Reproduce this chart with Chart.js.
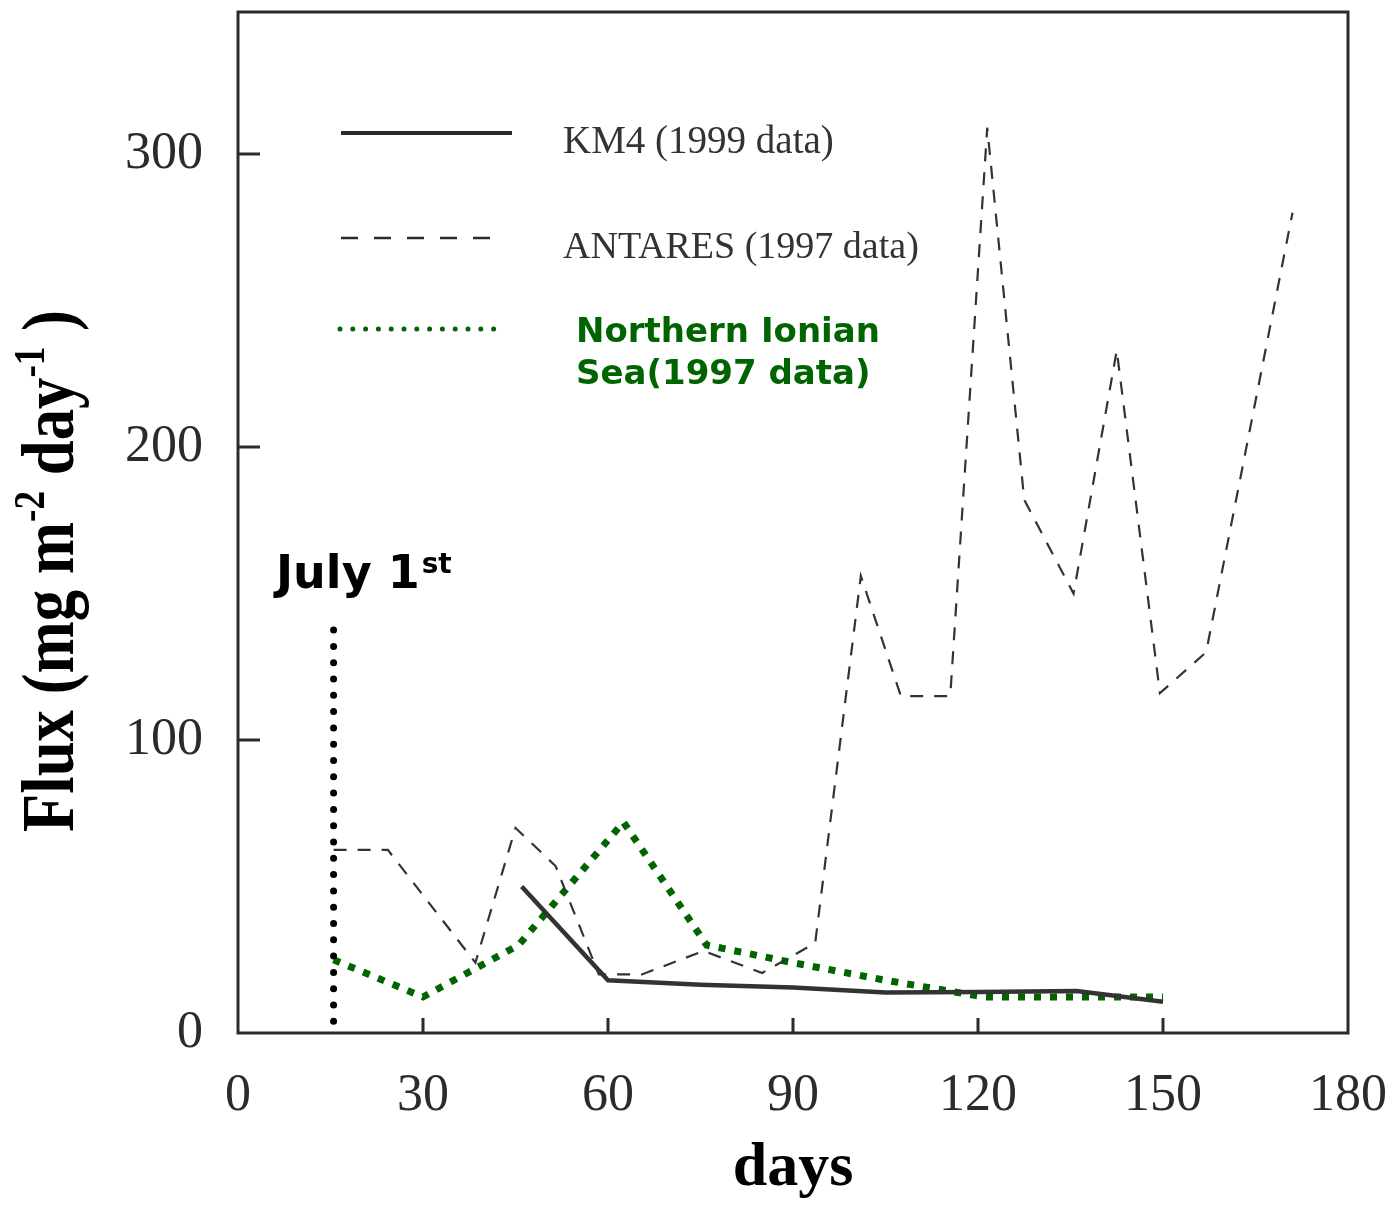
<!DOCTYPE html>
<html>
<head>
<meta charset="utf-8">
<title>Flux vs days</title>
<script src="https://cdn.jsdelivr.net/npm/chart.js@4.4.1/dist/chart.umd.min.js"></script>
<style>
  html, body { margin: 0; padding: 0; background: #ffffff; }
  #wrap { width: 1395px; height: 1206px; }
</style>
</head>
<body>
<div id="wrap"><canvas id="chart" width="1395" height="1206"></canvas></div>
<script>
// Axis ticks
const dayTicks = [0, 30, 60, 90, 120, 150, 180];
const fluxTicks = [0, 100, 200, 300];

// KM4 (1999) mass flux
const km4Days = [46, 60, 75, 90, 105, 120, 136, 150];
const km4Flux = [50, 18, 16.5, 15.5, 13.8, 14, 14.3, 10.7];

// ANTARES (1997) mass flux
const antaresDays = [15.5, 24.3, 38.5, 45, 51.5, 58.5, 65.5, 75.5, 85, 93.6, 101, 107.5, 115.5, 121.5, 127.5, 135.5, 142.5, 149.5, 157, 171];
const antaresFlux = [62.5, 62.5, 24, 70, 57, 20, 20, 28, 20.5, 30.7, 156, 115, 115, 309, 182, 150, 233, 116, 130, 280];

// Northern Ionian Sea (1997) mass flux
const ionianDays = [15.5, 30, 45.5, 62.5, 76, 90, 105, 121, 150];
const ionianFlux = [25, 12.3, 30, 72, 30, 24, 18, 12.3, 12.3];

// July 1st marker
const markerDay = 15.5;
const markerFlux = [4, 139];

const legendLabels = ['KM4 (1999 data)', 'ANTARES (1997 data)', 'Northern Ionian', 'Sea(1997 data)'];
const markerLabel = ['July 1', 'st'];
const xTitle = 'days';
const yTitleParts = [['Flux (mg m', false], ['-2', true], [' day', false], ['-1', true], [' )', false]];

const INK = '#2b2b2b';
const GREEN = '#006400';

function pairs(xs, ys) { return xs.map((x, i) => ({ x: x, y: ys[i] })); }

function noScalePadding(s) {
  s.paddingTop = 0; s.paddingBottom = 0; s.paddingLeft = 0; s.paddingRight = 0;
}

// Plot frame with inward tick marks
const framePlugin = {
  id: 'frame',
  beforeDatasetsDraw(chart) {
    const { ctx, chartArea: a, scales } = chart;
    ctx.save();
    ctx.strokeStyle = INK;
    ctx.lineWidth = 3;
    ctx.strokeRect(a.left, a.top, a.right - a.left, a.bottom - a.top);
    ctx.beginPath();
    dayTicks.slice(1, -1).forEach(v => {
      const x = scales.x.getPixelForValue(v);
      ctx.moveTo(x, a.bottom); ctx.lineTo(x, a.bottom - 15);
    });
    fluxTicks.slice(1).forEach(v => {
      const y = scales.y.getPixelForValue(v);
      ctx.moveTo(a.left, y); ctx.lineTo(a.left + 22, y);
    });
    ctx.stroke();
    ctx.restore();
  }
};

// Rotated y-axis title with superscripts
const yTitlePlugin = {
  id: 'yTitle',
  afterDraw(chart) {
    const { ctx } = chart;
    const mainFont = 'bold 74px "Liberation Serif", serif';
    const supFont = 'bold 44px "Liberation Serif", serif';
    ctx.save();
    let total = 0;
    const widths = yTitleParts.map(([t, sup]) => {
      ctx.font = sup ? supFont : mainFont;
      const w = ctx.measureText(t).width;
      total += w;
      return w;
    });
    const cy = 571;
    const targetLen = 522;
    ctx.translate(0, cy);
    ctx.rotate(-Math.PI / 2);
    ctx.scale(targetLen / total, 1);
    ctx.fillStyle = '#000';
    ctx.textBaseline = 'alphabetic';
    let u = -total / 2;
    yTitleParts.forEach(([t, sup], i) => {
      ctx.font = sup ? supFont : mainFont;
      ctx.fillText(t, u, sup ? 44 : 73);
      u += widths[i];
    });
    ctx.restore();
  }
};

// In-plot legend and the July 1st label
const legendPlugin = {
  id: 'keyBox',
  afterDatasetsDraw(chart) {
    const { ctx } = chart;
    ctx.save();
    ctx.strokeStyle = INK;
    ctx.lineWidth = 4;
    ctx.beginPath(); ctx.moveTo(341, 133); ctx.lineTo(512, 133); ctx.stroke();
    ctx.lineWidth = 2.5;
    ctx.setLineDash([17, 16]);
    ctx.beginPath(); ctx.moveTo(341, 238); ctx.lineTo(500, 238); ctx.stroke();
    ctx.strokeStyle = GREEN;
    ctx.lineWidth = 5;
    ctx.lineCap = 'round';
    ctx.setLineDash([0, 12.8]);
    ctx.beginPath(); ctx.moveTo(340, 329); ctx.lineTo(505, 329); ctx.stroke();
    ctx.setLineDash([]);

    ctx.fillStyle = '#333';
    ctx.font = '39px "Liberation Serif", serif';
    ctx.textBaseline = 'alphabetic';
    ctx.fillText(legendLabels[0], 563, 153);
    ctx.font = '38px "Liberation Serif", serif';
    ctx.fillText(legendLabels[1], 563, 258);
    ctx.fillStyle = GREEN;
    ctx.font = 'bold 34px "DejaVu Sans", sans-serif';
    ctx.fillText(legendLabels[2], 576, 342);
    ctx.fillText(legendLabels[3], 576, 384);

    ctx.fillStyle = '#000';
    ctx.font = 'bold 46px "DejaVu Sans", sans-serif';
    ctx.fillText(markerLabel[0], 276, 588);
    const w = ctx.measureText(markerLabel[0]).width;
    ctx.font = 'bold 28px "DejaVu Sans", sans-serif';
    ctx.fillText(markerLabel[1], 276 + w + 2, 573);
    ctx.restore();
  }
};

const tickFont = { family: '"Liberation Serif", serif', size: 52 };

new Chart(document.getElementById('chart'), {
  type: 'line',
  data: {
    datasets: [
      {
        label: 'July 1st',
        data: [{ x: markerDay, y: markerFlux[0] }, { x: markerDay, y: markerFlux[1] }],
        borderColor: '#000', borderWidth: 7, borderDash: [0, 16.3], borderCapStyle: 'round',
        pointRadius: 0, tension: 0
      },
      {
        label: legendLabels[1],
        data: pairs(antaresDays, antaresFlux),
        borderColor: '#333', borderWidth: 2.2, borderDash: [13, 11],
        pointRadius: 0, tension: 0
      },
      {
        label: legendLabels[0],
        data: pairs(km4Days, km4Flux),
        borderColor: '#333', borderWidth: 4.5,
        pointRadius: 0, tension: 0
      },
      {
        label: legendLabels[2] + ' ' + legendLabels[3],
        data: pairs(ionianDays, ionianFlux),
        borderColor: GREEN, borderWidth: 7, borderDash: [7, 9], borderCapStyle: 'butt',
        pointRadius: 0, tension: 0
      }
    ]
  },
  options: {
    responsive: false,
    animation: false,
    layout: { padding: { top: 12, right: 47, left: 0, bottom: 0 } },
    plugins: { legend: { display: false }, tooltip: { enabled: false } },
    scales: {
      x: {
        type: 'linear', min: 0, max: 180,
        afterBuildTicks: s => { s.ticks = dayTicks.map(v => ({ value: v })); },
        afterFit: s => { s.height = 173; noScalePadding(s); },
        grid: { display: false, drawTicks: false },
        border: { display: false },
        ticks: { font: tickFont, color: INK, padding: 32, maxRotation: 0, autoSkip: false },
        title: {
          display: true, text: xTitle, color: '#000',
          font: { family: '"Liberation Serif", serif', size: 62, weight: 'bold' },
          padding: { top: 0, bottom: 0 }
        }
      },
      y: {
        type: 'linear', min: 0, max: 348.5,
        afterBuildTicks: s => { s.ticks = fluxTicks.map(v => ({ value: v })); },
        afterFit: s => { s.width = 238; noScalePadding(s); },
        grid: { display: false, drawTicks: false },
        border: { display: false },
        ticks: { font: tickFont, color: INK, padding: 35 }
      }
    }
  },
  plugins: [framePlugin, legendPlugin, yTitlePlugin]
});
</script>
</body>
</html>
